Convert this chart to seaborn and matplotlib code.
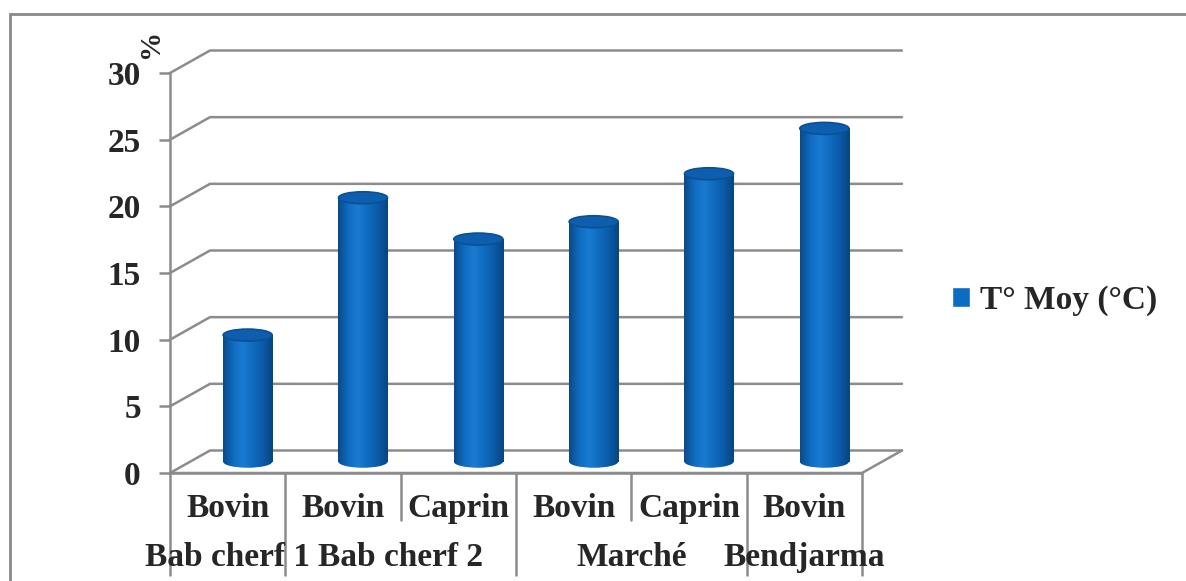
import numpy as np
import pandas as pd
import matplotlib
matplotlib.use('Agg')
import matplotlib.pyplot as plt
import seaborn as sns
from matplotlib.colors import LinearSegmentedColormap
from matplotlib.patches import Ellipse, Rectangle, Patch

# data
sites = ['Bab cherf 1', 'Bab cherf 2', 'Bab cherf 2', 'Marché', 'Marché', 'Bendjarma']
species = ['Bovin', 'Bovin', 'Caprin', 'Bovin', 'Caprin', 'Bovin']
temp_moy = [9.5, 19.8, 16.7, 18.0, 21.6, 25.0]
y_ticks = [0, 5, 10, 15, 20, 25, 30]
series_name = 'T° Moy (°C)'

sns.set_style('white')
plt.rcParams['font.family'] = ['Liberation Serif', 'DejaVu Serif']
plt.rcParams['font.weight'] = 'bold'

W, H = 1186, 581
fig = plt.figure(figsize=(W / 100, H / 100), dpi=100)
# front plane of the pseudo 3D box
ax = fig.add_axes([170 / W, (H - 473) / H, 692 / W, 400 / H])

df = pd.DataFrame({'cat': [f'{s}|{sp}|{i}' for i, (s, sp) in enumerate(zip(sites, species))],
                   'val': temp_moy})
sns.barplot(data=df, x='cat', y='val', width=0.425, color='#0b6cc4', ax=ax,
            zorder=3, legend=False)

ax.set_xlim(-0.5, len(sites) - 0.5)
ax.set_ylim(0, 30)
sx = (len(sites)) / 692   # data units per pixel
sy = 30 / 400
dxb, dyb = 40 * sx, 22.5 * sy   # depth offset of back wall
eh = 12 * sy                    # ellipse height of cylinder caps

grid_c = '#8c8c8c'
# back wall gridlines with the diagonal to the front axis
for v in y_ticks:
    ax.plot([-0.5, -0.5 + dxb, len(sites) - 0.5 + dxb], [v, v + dyb, v + dyb],
            color=grid_c, lw=1.8, clip_on=False, zorder=1)
# floor
ax.plot([-0.5, len(sites) - 0.5, len(sites) - 0.5 + dxb], [0, 0, dyb],
        color=grid_c, lw=1.8, clip_on=False, zorder=1)

# cylinder look for each bar
cyl = LinearSegmentedColormap.from_list('cyl', ['#0a4a8a', '#0f6cc0', '#1a7bd2',
                                                '#0f6bbf', '#0b5ba8', '#084580'])
grad = np.linspace(0, 1, 64).reshape(1, -1)
for p in list(ax.patches):
    x0 = p.get_x() + dxb / 2
    w = p.get_width()
    h = p.get_height()
    y0 = dyb / 2
    cx = x0 + w / 2
    p.set_x(x0)
    p.set_y(y0)
    p.set_facecolor('none')
    p.set_edgecolor('none')
    im = ax.imshow(grad, extent=[x0, x0 + w, y0, y0 + h], cmap=cyl, aspect='auto',
                   zorder=3, interpolation='bicubic')
    im.set_clip_path(p)
    bot = Ellipse((cx, y0), w, eh, facecolor='none', edgecolor='none', zorder=3)
    ax.add_patch(bot)
    im2 = ax.imshow(grad, extent=[x0, x0 + w, y0 - eh, y0 + eh], cmap=cyl,
                    aspect='auto', zorder=3, interpolation='bicubic')
    im2.set_clip_path(bot)
    ax.add_patch(Ellipse((cx, y0 + h), w, eh, facecolor='#0d5eae', edgecolor='#0a5095',
                         lw=1.2, zorder=4))

ax.set_xlim(-0.5, len(sites) - 0.5)
ax.set_ylim(0, 30)
ax.set_yticks(y_ticks)
ax.set_yticklabels([str(t) for t in y_ticks], fontsize=24, fontweight='bold')
ax.tick_params(axis='y', length=8, width=1.8, color=grid_c, direction='out', pad=13, left=True)
ax.set_xticks([])
ax.set_xlabel('')
ax.set_ylabel('')
for s in ['top', 'right']:
    ax.spines[s].set_visible(False)
for s in ['left', 'bottom']:
    ax.spines[s].set_color(grid_c)
    ax.spines[s].set_linewidth(1.8)

# two level category axis
tr = ax.get_xaxis_transform()
n = len(sites)
for i in range(n + 1):
    if i == 0 or i == n or sites[i] != sites[i - 1]:
        y_end = -0.255
    else:
        y_end = -0.1175
    ax.plot([i - 0.5, i - 0.5], [0, y_end], transform=tr, color=grid_c, lw=1.8,
            clip_on=False)
for i, sp in enumerate(species):
    ax.text(i, -0.088, sp, transform=tr, ha='center', va='center', fontsize=24,
            fontweight='bold')
start = 0
for i in range(1, n + 1):
    if i == n or sites[i] != sites[start]:
        ax.text((start + i - 1) / 2, -0.212, sites[start], transform=tr, ha='center',
                va='center', fontsize=24, fontweight='bold')
        start = i

# axis unit
fig.text(151 / W, 1 - 43 / H, '%', rotation=90, ha='center', va='center',
         fontsize=21, fontweight='bold')

# legend
fig.legend(handles=[Patch(facecolor='#0b6cc4', label=series_name)], loc='center left',
           bbox_to_anchor=(922 / W, 1 - 300 / H), frameon=False, handlelength=0.55,
           handleheight=0.55, handletextpad=0.3, prop={'size': 24, 'weight': 'bold'})

# chart area border
fig.patches.append(Rectangle((10 / W, -0.1), 1.2, 1 - 14 / H + 0.1, transform=fig.transFigure,
                             fill=False, edgecolor='#8a8a8a', lw=2))

fig.savefig('out.png', dpi=100)
